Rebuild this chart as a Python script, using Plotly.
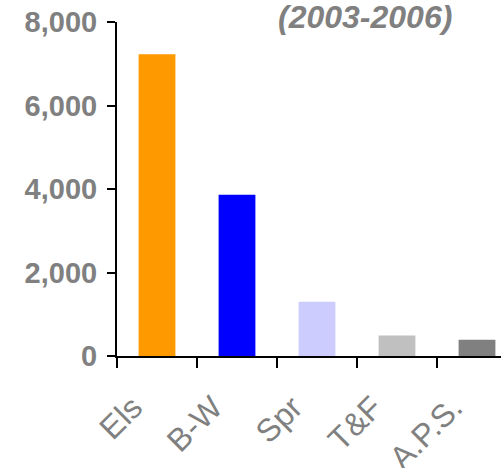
import plotly.graph_objects as go

categories = ["Els", "B-W", "Spr", "T&F", "A.P.S."]
values = [7230, 3860, 1300, 490, 390]
colors = ["#FF9900", "#0000FF", "#CCCCFF", "#C0C0C0", "#808080"]
y_ticks = [0, 2000, 4000, 6000, 8000]
y_tick_labels = ["0", "2,000", "4,000", "6,000", "8,000"]
title_text = "(2003-2006)"

fig = go.Figure(go.Bar(x=categories, y=values, marker=dict(color=colors, line=dict(width=0)), width=0.46))

fig.update_layout(
    width=501, height=468,
    margin=dict(l=117, r=0, t=22, b=112, autoexpand=False),
    plot_bgcolor="white", paper_bgcolor="white",
    showlegend=False,
    font=dict(family="Liberation Sans, Arial, sans-serif", color="#808080"),
)
fig.update_xaxes(
    type="category", range=[-0.5, 4.3], automargin=False,
    showline=True, linecolor="black", linewidth=2,
    ticks="outside", ticklen=10, tickwidth=2, tickcolor="black",
    tickson="boundaries", tickangle=-45,
    tickfont=dict(size=32, color="#808080"),
    ticklabelstandoff=18, ticklabelshift=-24,
    ticklabeloverflow="allow",
    showgrid=False, zeroline=False,
)
fig.update_yaxes(
    range=[0, 8000], tickvals=y_ticks, ticktext=y_tick_labels, automargin=False,
    showline=True, linecolor="black", linewidth=2,
    ticks="outside", ticklen=8, tickwidth=2, tickcolor="black",
    tickfont=dict(size=29, color="#808080", weight="bold"),
    ticklabelstandoff=4, ticklabeloverflow="allow",
    showgrid=False, zeroline=False,
)
fig.add_annotation(
    text="<b><i>" + title_text + "</i></b>", xref="paper", yref="paper",
    x=(365 - 117) / 384, y=1.0, xanchor="center", yanchor="middle", yshift=5,
    borderpad=0, showarrow=False, font=dict(size=32, color="#808080"),
)
fig.write_html("out.html", config={"displayModeBar": False},
               post_script="document.body.style.margin='0';")
